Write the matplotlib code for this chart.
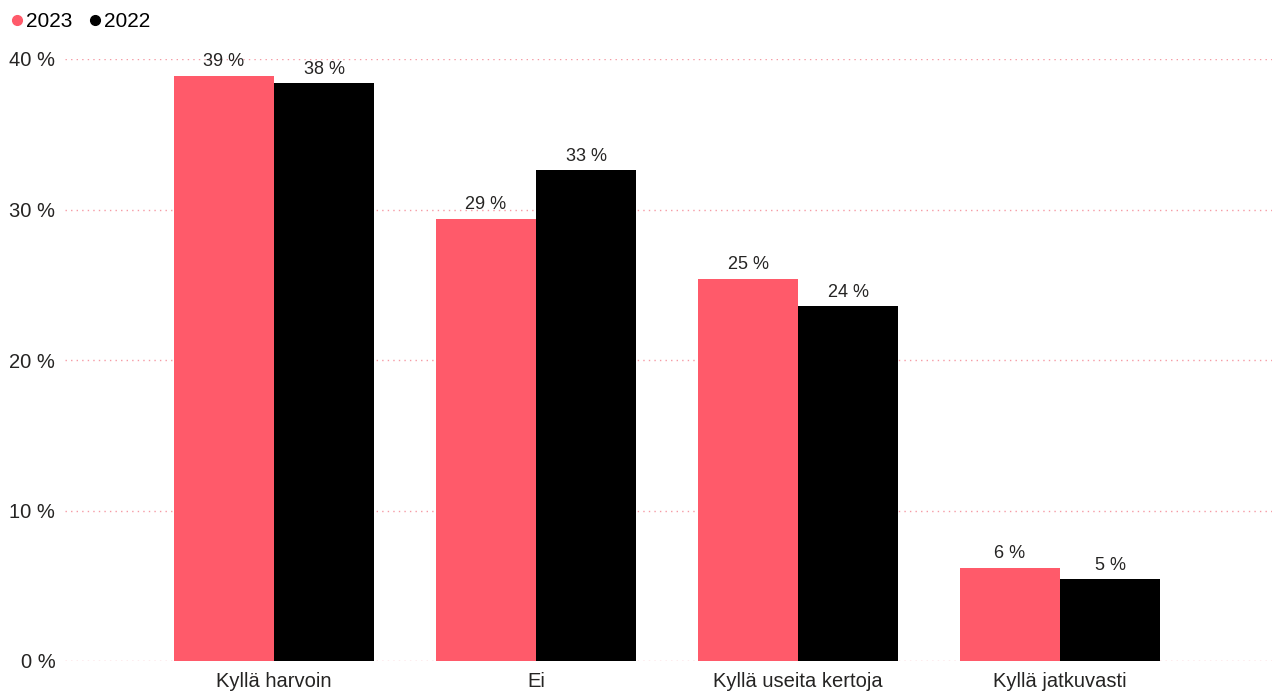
import matplotlib
matplotlib.use("Agg")
import matplotlib.pyplot as plt
import numpy as np

categories = ["Kyllä harvoin", "Ei", "Kyllä useita kertoja", "Kyllä jatkuvasti"]
values_2023 = [38.9, 29.4, 25.4, 6.2]
values_2022 = [38.4, 32.6, 23.6, 5.45]
labels_2023 = ["39 %", "29 %", "25 %", "6 %"]
labels_2022 = ["38 %", "33 %", "24 %", "5 %"]
yticks = [0, 10, 20, 30, 40]
ytick_labels = ["0 %", "10 %", "20 %", "30 %", "40 %"]

plt.rcParams['font.family'] = ['Liberation Sans', 'DejaVu Sans']

c23 = "#FF5A6A"
c22 = "#000000"

fig = plt.figure(figsize=(12.75, 6.93), dpi=100)
ax = fig.add_axes([65/1275, 1-661/693, (1272-65)/1275, (661-59)/693])

x = np.arange(len(categories))
w = 100/262
b1 = ax.bar(x - w/2, values_2023, w, color=c23, label="2023")
b2 = ax.bar(x + w/2, values_2022, w, color=c22, label="2022")

for rect, lab in zip(b1, labels_2023):
    ax.text(rect.get_x() + rect.get_width()/2, rect.get_height() + 0.35, lab,
            ha='center', va='bottom', fontsize=13, color='#252423')
for rect, lab in zip(b2, labels_2022):
    ax.text(rect.get_x() + rect.get_width()/2, rect.get_height() + 0.35, lab,
            ha='center', va='bottom', fontsize=13, color='#252423')

ax.set_xlim((65-274)/262, (1272-274)/262)
ax.set_ylim(0, 40)
ax.set_yticks(yticks)
ax.set_yticklabels(ytick_labels, fontsize=14.5, color='#252423')
ax.set_xticks(x)
ax.set_xticklabels(categories, fontsize=14.5, color='#252423')
ax.tick_params(axis='both', length=0)
ax.tick_params(axis='y', pad=7)
ax.tick_params(axis='x', pad=8)
ax.grid(axis='y', color='#F59AA4', linestyle=(0, (1, 3)), linewidth=1)
ax.set_axisbelow(True)
for s in ax.spines.values():
    s.set_visible(False)

handles = [plt.Line2D([], [], marker='o', linestyle='', color=c23, markersize=7),
           plt.Line2D([], [], marker='o', linestyle='', color=c22, markersize=7)]
fig.legend(handles, ["2023", "2022"], loc='upper left', bbox_to_anchor=(-0.008, 1.004),
           ncol=2, frameon=False, fontsize=15, handletextpad=-0.15, columnspacing=0.45,
           handlelength=1.2, borderaxespad=0.3)

fig.savefig("out.png", dpi=100)
